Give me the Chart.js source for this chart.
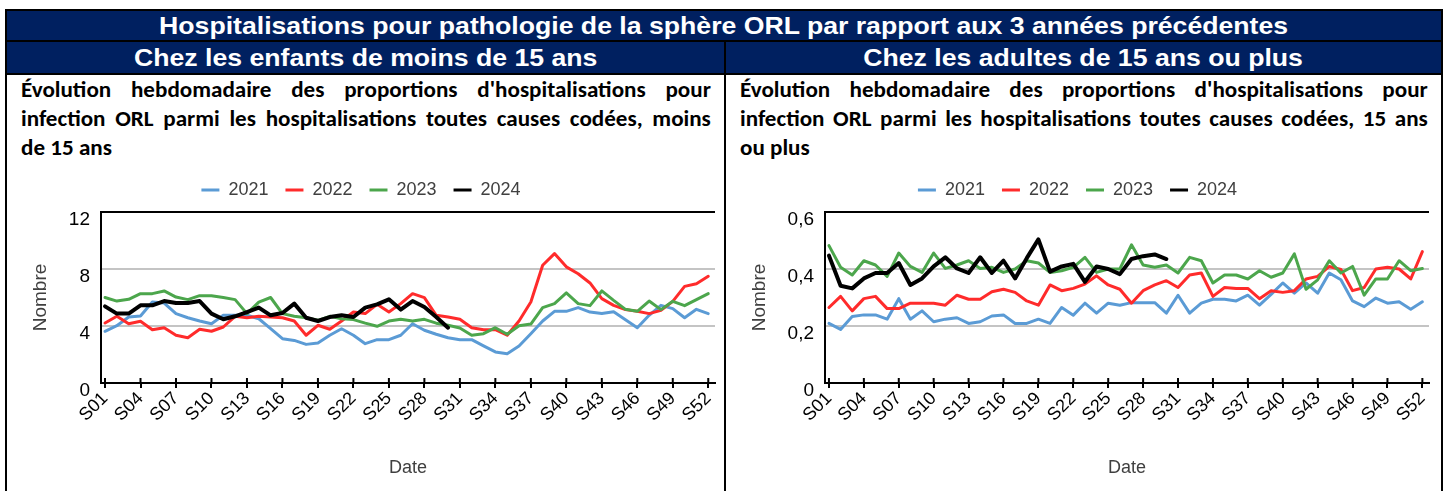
<!DOCTYPE html>
<html lang="fr">
<head>
<meta charset="utf-8">
<title>Hospitalisations ORL</title>
<script src="https://cdn.jsdelivr.net/npm/chart.js"></script>
<style>
  body { margin: 0; width: 1448px; height: 491px; overflow: hidden; position: relative; background: #fff;
         font-family: 'Liberation Sans', Arial, sans-serif; }
  .abs { position: absolute; }
  #frame { left: 5px; top: 9px; width: 1438px; height: 520px; border: 2px solid #000; box-sizing: border-box; }
  #head { left: 7px; top: 11px; width: 1434px; height: 64px; background: #000; }
  .bar { background: #002060; color: #fff; font-weight: bold; font-size: 24px; text-align: center; white-space: nowrap; }
  .bar span { display: inline-block; transform: scaleX(1.11); }
  #title { left: 7px; top: 11px; width: 1434px; height: 29px; line-height: 29px; }
  #sub1 { left: 7px; top: 42px; width: 717px; height: 31px; line-height: 31px; }
  #sub2 { left: 726px; top: 42px; width: 715px; height: 31px; line-height: 31px; }
  #divider { left: 724px; top: 42px; width: 2px; height: 460px; background: #000; }
  .desc { top: 75px; font-family: Calibri, Carlito, Lato, sans-serif; font-weight: bold; font-size: 22px;
          line-height: 29px; color: #000; transform: scaleX(1.05); transform-origin: left top; }
  .desc .j { text-align: justify; text-align-last: justify; }
  canvas { position: absolute; }
</style>
</head>
<body>
<div id="frame" class="abs"></div>
<div id="head" class="abs"></div>
<div id="title" class="abs bar"><span>Hospitalisations pour pathologie de la sphère ORL par rapport aux 3 années précédentes</span></div>
<div id="sub1" class="abs bar"><span>Chez les enfants de moins de 15 ans</span></div>
<div id="sub2" class="abs bar"><span>Chez les adultes de 15 ans ou plus</span></div>
<div id="divider" class="abs"></div>

<div class="abs desc" style="left:21px; width:657px">
  <div class="j">Évolution hebdomadaire des proportions d'hospitalisations pour</div>
  <div class="j">infection ORL parmi les hospitalisations toutes causes codées, moins</div>
  <div>de 15 ans</div>
</div>
<div class="abs desc" style="left:740px; width:655px">
  <div class="j">Évolution hebdomadaire des proportions d'hospitalisations pour</div>
  <div class="j">infection ORL parmi les hospitalisations toutes causes codées, 15 ans</div>
  <div>ou plus</div>
</div>

<canvas id="chartEnfants" width="717" height="331" style="left:7px; top:160px"></canvas>
<canvas id="chartAdultes" width="715" height="331" style="left:726px; top:160px"></canvas>

<script>
const weekLabels = [
  'S01','S02','S03','S04','S05','S06','S07','S08','S09','S10','S11','S12','S13',
  'S14','S15','S16','S17','S18','S19','S20','S21','S22','S23','S24','S25','S26',
  'S27','S28','S29','S30','S31','S32','S33','S34','S35','S36','S37','S38','S39',
  'S40','S41','S42','S43','S44','S45','S46','S47','S48','S49','S50','S51','S52'
];
const tickLabels = ['S01','S04','S07','S10','S13','S16','S19','S22','S25','S28','S31','S34','S37','S40','S43','S46','S49','S52'];
const years = ['2021', '2022', '2023', '2024'];

// moins de 15 ans
const enfants2021 = [3.63, 4.02, 4.63, 4.7, 5.68, 5.61, 4.87, 4.58, 4.35, 4.16, 4.75, 4.75, 4.75,
  4.51, 3.81, 3.11, 2.99, 2.71, 2.81, 3.35, 3.81, 3.35, 2.76, 3.04, 3.04, 3.35,
  4.16, 3.7, 3.42, 3.18, 3.04, 3.04, 2.6, 2.18, 2.06, 2.6, 3.46, 4.35, 5.03,
  5.03, 5.29, 4.98, 4.87, 5.0, 4.44, 3.88, 4.75, 5.45, 5.22, 4.58, 5.17, 4.87];
const enfants2022 = [4.21, 4.68, 4.16, 4.33, 3.74, 3.88, 3.35, 3.18, 3.77, 3.63, 3.93, 4.68, 4.58,
  4.68, 4.63, 4.58, 4.35, 3.35, 4.05, 3.77, 4.35, 4.98, 4.87, 5.52, 4.98, 5.57,
  6.27, 5.99, 4.75, 4.63, 4.47, 3.88, 3.74, 3.74, 3.35, 4.35, 5.68, 8.26, 9.08,
  8.15, 7.67, 7.02, 5.92, 5.45, 5.15, 5.03, 4.87, 5.1, 5.73, 6.78, 6.97, 7.49];
const enfants2023 = [6.0, 5.75, 5.87, 6.27, 6.27, 6.46, 6.03, 5.85, 6.13, 6.13, 6.0, 5.85, 4.87,
  5.68, 6.0, 4.87, 4.68, 4.58, 4.4, 4.68, 4.5, 4.45, 4.2, 3.98, 4.35, 4.47,
  4.35, 4.47, 4.2, 4.05, 3.86, 3.35, 3.46, 3.88, 3.42, 4.02, 4.14, 5.29, 5.57,
  6.32, 5.57, 5.43, 6.46, 5.8, 5.17, 5.03, 5.75, 5.15, 5.73, 5.43, 5.85, 6.27];
const enfants2024 = [5.38, 4.87, 4.87, 5.45, 5.45, 5.75, 5.61, 5.61, 5.75, 4.87, 4.47, 4.68, 4.98,
  5.29, 4.75, 4.91, 5.57, 4.58, 4.35, 4.63, 4.75, 4.63, 5.29, 5.52, 5.87, 5.15,
  5.75, 5.33, 4.63, 3.88];

// 15 ans ou plus
const adultes2021 = [0.209, 0.188, 0.233, 0.239, 0.239, 0.224, 0.296, 0.224, 0.253, 0.215, 0.224, 0.229, 0.209,
  0.215, 0.235, 0.239, 0.209, 0.209, 0.224, 0.209, 0.265, 0.238, 0.28, 0.245, 0.28, 0.273,
  0.282, 0.282, 0.282, 0.245, 0.308, 0.245, 0.28, 0.294, 0.294, 0.288, 0.308, 0.273, 0.311,
  0.351, 0.315, 0.351, 0.315, 0.386, 0.362, 0.288, 0.268, 0.298, 0.28, 0.285, 0.259, 0.285];
const adultes2022 = [0.265, 0.304, 0.253, 0.296, 0.304, 0.261, 0.261, 0.28, 0.28, 0.28, 0.273, 0.308, 0.294,
  0.294, 0.32, 0.329, 0.318, 0.288, 0.273, 0.344, 0.324, 0.332, 0.347, 0.376, 0.344, 0.329,
  0.28, 0.324, 0.344, 0.359, 0.335, 0.379, 0.386, 0.304, 0.335, 0.332, 0.332, 0.296, 0.324,
  0.318, 0.324, 0.365, 0.374, 0.409, 0.398, 0.324, 0.335, 0.4, 0.406, 0.4, 0.365, 0.461];
const adultes2023 = [0.482, 0.406, 0.379, 0.429, 0.414, 0.374, 0.456, 0.409, 0.388, 0.456, 0.402, 0.414, 0.429,
  0.402, 0.406, 0.388, 0.4, 0.429, 0.421, 0.388, 0.394, 0.406, 0.441, 0.388, 0.4, 0.4,
  0.485, 0.414, 0.406, 0.414, 0.386, 0.441, 0.429, 0.351, 0.379, 0.379, 0.365, 0.394, 0.371,
  0.386, 0.453, 0.329, 0.362, 0.429, 0.386, 0.409, 0.308, 0.365, 0.365, 0.429, 0.394, 0.402];
const adultes2024 = [0.447, 0.341, 0.332, 0.367, 0.386, 0.386, 0.421, 0.344, 0.367, 0.409, 0.441, 0.402, 0.386,
  0.441, 0.386, 0.429, 0.367, 0.438, 0.504, 0.391, 0.409, 0.418, 0.355, 0.409, 0.4, 0.382,
  0.435, 0.445, 0.451, 0.435];

const lineColors = ['#5b9bd5', '#ff2b2b', '#4ca64c', '#000000'];
const lineWidths = [3, 3, 3, 4];
const textFont = "'Liberation Sans', Arial, sans-serif";

// tick marks that cross the date axis
const crossTicks = {
  id: 'crossTicks',
  afterDraw(chart) {
    const xs = chart.scales.x;
    const ctx = chart.ctx;
    const b = chart.chartArea.bottom;
    ctx.save();
    ctx.strokeStyle = '#000';
    ctx.lineWidth = 2;
    xs.ticks.forEach((t, i) => {
      const px = xs.getPixelForTick(i);
      ctx.beginPath();
      ctx.moveTo(px, b - 5);
      ctx.lineTo(px, b);
      ctx.stroke();
    });
    ctx.restore();
  }
};

function makeChart(id, series, yMax, yStep, yFormat, axisWidth, padRight) {
  const datasets = series.map((values, i) => ({
    label: years[i],
    data: values.map((v, k) => ({ x: k + 1, y: v })),
    borderColor: lineColors[i],
    backgroundColor: lineColors[i],
    borderWidth: lineWidths[i],
    pointRadius: 0,
    tension: 0,
    borderJoinStyle: 'round',
    borderCapStyle: 'round',
    order: 4 - i
  }));

  return new Chart(document.getElementById(id), {
    type: 'line',
    data: { datasets },
    plugins: [crossTicks],
    options: {
      responsive: false,
      animation: false,
      devicePixelRatio: 1,
      layout: { padding: { top: 4, right: padRight, bottom: 0, left: 0 } },
      plugins: {
        tooltip: { enabled: false },
        legend: {
          position: 'top',
          labels: {
            font: { family: textFont, size: 18 },
            color: '#404040',
            boxWidth: 18,
            boxHeight: 3,
            padding: 17,
            sort: (a, b) => a.datasetIndex - b.datasetIndex,
            generateLabels: chart => Chart.defaults.plugins.legend.labels.generateLabels(chart)
              .map(l => Object.assign(l, { lineWidth: 0, fillStyle: l.strokeStyle }))
          }
        },
        // small gap between legend and plot
        title: { display: true, text: '', weight: 500, padding: 0, font: { size: 3, lineHeight: 1 } }
      },
      scales: {
        x: {
          type: 'linear',
          min: 0.66,
          max: 52.57,
          afterBuildTicks: axis => {
            axis.ticks = tickLabels.map(l => ({ value: weekLabels.indexOf(l) + 1 }));
          },
          afterFit: axis => { axis.height = 108; },
          ticks: {
            autoSkip: false,
            maxRotation: 45,
            minRotation: 45,
            padding: 0,
            color: '#000',
            font: { family: textFont, size: 18 },
            callback: v => weekLabels[v - 1]
          },
          grid: { drawOnChartArea: false, color: '#000', lineWidth: 2, tickLength: 5 },
          border: { color: '#000', width: 2 },
          title: {
            display: true,
            text: 'Date',
            color: '#404040',
            font: { family: textFont, size: 18 },
            padding: { top: 4, bottom: 12 }
          }
        },
        y: {
          min: 0,
          max: yMax,
          afterFit: axis => { axis.width = axisWidth; },
          ticks: {
            stepSize: yStep,
            padding: 11,
            labelOffset: 8,
            color: '#000',
            font: { family: textFont, size: 19 },
            callback: yFormat
          },
          grid: {
            drawTicks: false,
            lineWidth: 2,
            color: c => (c.tick && (c.tick.value === 0 || Math.abs(c.tick.value - yMax) < 1e-9)) ? '#000' : '#c4c4c4'
          },
          border: { color: '#000', width: 2 },
          title: {
            display: true,
            text: 'Nombre',
            color: '#404040',
            font: { family: textFont, size: 19 },
            padding: { top: 22, bottom: 0 }
          }
        }
      }
    }
  });
}

makeChart('chartEnfants', [enfants2021, enfants2022, enfants2023, enfants2024],
  12, 4, v => String(v), 94, 9);
makeChart('chartAdultes', [adultes2021, adultes2022, adultes2023, adultes2024],
  0.6, 0.2, v => (v === 0 ? '0' : v.toFixed(1).replace('.', ',')), 99, 12);
</script>
</body>
</html>
